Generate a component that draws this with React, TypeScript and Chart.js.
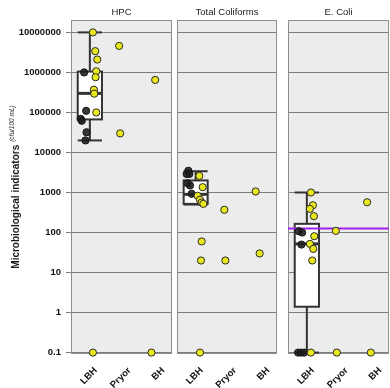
import React, { useEffect, useRef } from 'react';
import { Chart, registerables } from 'chart.js';
Chart.register(...registerables);

const FONT = "'Liberation Sans', Arial, sans-serif";

// ---------- data ----------
const categories = ['LBH', 'Pryor', 'BH'];
const panelTitles = ['HPC', 'Total Coliforms', 'E. Coli'];
const yTicks = [0.1, 1, 10, 100, 1000, 10000, 100000, 1000000, 10000000];
const yTitle = 'Microbiological indicators';
const yUnit = '(cfu/100 mL)';
const eColiStandard = 126;

// LBH box statistics: [whisker low, Q1, median, Q3, whisker high]
const hpcBox = [20000, 67000, 300000, 1050000, 10000000];
const tcBox = [500, 520, 900, 2000, 3400];
const ecBox = [0.1, 1.4, 52, 165, 1000];

// HPC points (category 1..3, value, jitter)
const hpcYellowCat = [1, 1, 1, 1, 1, 1, 1, 1, 1, 2, 2, 3, 3];
const hpcYellowVal = [1e7, 3.4e6, 2.1e6, 1.07e6, 7.6e5, 3.7e5, 2.95e5, 1e5, 0.1, 4.6e6, 3e4, 6.5e5, 0.1];
const hpcYellowJit = [0.15, 0.22, 0.28, 0.25, 0.23, 0.18, 0.19, 0.25, 0.15, -0.07, -0.04, 0, -0.11];
const hpcBlackCat = [1, 1, 1, 1, 1, 1];
const hpcBlackVal = [1e6, 1.1e5, 6.9e4, 6.2e4, 3.2e4, 2e4];
const hpcBlackJit = [-0.11, -0.05, -0.21, -0.18, -0.04, -0.07];

// Total coliforms points
const tcYellowCat = [1, 1, 1, 1, 1, 1, 1, 1, 1, 2, 2, 3, 3];
const tcYellowVal = [2600, 1360, 830, 660, 560, 520, 60, 20, 0.1, 370, 20, 1060, 30];
const tcYellowJit = [0.17, 0.27, 0.12, 0.19, 0.24, 0.29, 0.24, 0.22, 0.19, -0.08, -0.05, -0.14, -0.02];
const tcBlackCat = [1, 1, 1, 1, 1, 1];
const tcBlackVal = [3500, 2900, 2900, 1700, 1500, 930];
const tcBlackJit = [-0.16, -0.21, -0.13, -0.18, -0.11, -0.06];

// E. coli points
const ecYellowCat = [1, 1, 1, 1, 1, 1, 1, 1, 1, 2, 2, 3, 3];
const ecYellowVal = [1000, 480, 390, 256, 81, 52, 39, 20, 0.1, 110, 0.1, 570, 0.1];
const ecYellowJit = [0.18, 0.24, 0.15, 0.27, 0.28, 0.15, 0.25, 0.22, 0.18, -0.08, -0.05, -0.15, -0.04];
const ecBlackCat = [1, 1, 1, 1, 1, 1];
const ecBlackVal = [108, 100, 50, 0.1, 0.1, 0.1];
const ecBlackJit = [-0.18, -0.08, -0.1, -0.2, -0.11, -0.02];

// ---------- styling ----------
const YELLOW = 'rgb(232,232,28)';
const DARK = 'rgba(28,28,28,0.88)';
const PANEL_BG = '#ececec';
const GRID = '#7c7c7c';
const BOX_SHIFT = 0.06;
const BOX_HALF = 0.36;

type PanelDef = {
  title: string;
  box: number[];
  yCat: number[]; yVal: number[]; yJit: number[];
  bCat: number[]; bVal: number[]; bJit: number[];
  threshold: number | null;
};

const panels: PanelDef[] = [
  { title: panelTitles[0], box: hpcBox, yCat: hpcYellowCat, yVal: hpcYellowVal, yJit: hpcYellowJit, bCat: hpcBlackCat, bVal: hpcBlackVal, bJit: hpcBlackJit, threshold: null },
  { title: panelTitles[1], box: tcBox, yCat: tcYellowCat, yVal: tcYellowVal, yJit: tcYellowJit, bCat: tcBlackCat, bVal: tcBlackVal, bJit: tcBlackJit, threshold: null },
  { title: panelTitles[2], box: ecBox, yCat: ecYellowCat, yVal: ecYellowVal, yJit: ecYellowJit, bCat: ecBlackCat, bVal: ecBlackVal, bJit: ecBlackJit, threshold: eColiStandard },
];

const layouts = [
  { left: 0, width: 174, padL: 0, padR: 2, axisW: 71, yLabels: true },
  { left: 175, width: 104, padL: 2, padR: 2, axisW: 0, yLabels: false },
  { left: 286, width: 104, padL: 2, padR: 1, axisW: 0, yLabels: false },
];

function buildChart(canvas: HTMLCanvasElement, p: PanelDef, L: typeof layouts[0]) {
  const yMin = Math.pow(10, -1.035);
  const yMax = Math.pow(10, 7.31);
  const datasets: any[] = [
    {
      type: 'scatter',
      data: p.yCat.map((c, i) => ({ x: c + p.yJit[i], y: p.yVal[i] })),
      backgroundColor: YELLOW, borderColor: '#2a2a2a', borderWidth: 1,
      pointRadius: 3.6, pointHoverRadius: 3.6, clip: false,
    },
    {
      type: 'scatter',
      data: p.bCat.map((c, i) => ({ x: c + p.bJit[i], y: p.bVal[i] })),
      backgroundColor: DARK, borderColor: '#151515', borderWidth: 1,
      pointRadius: 3.6, pointHoverRadius: 3.6, clip: false,
    },
  ];
  if (p.threshold != null) {
    datasets.push({
      type: 'line',
      data: [{ x: 0.5, y: p.threshold }, { x: 3.5, y: p.threshold }],
      borderColor: '#a020f0', borderWidth: 2, pointRadius: 0, fill: false,
    });
  }

  const panelPlugin = {
    id: 'panelDecor' + p.title.replace(/\W/g, ''),
    beforeDraw(chart: any) {
      const { ctx, chartArea: a } = chart;
      ctx.save();
      ctx.fillStyle = PANEL_BG;
      ctx.fillRect(a.left, a.top, a.right - a.left, a.bottom - a.top);
      ctx.restore();
    },
    beforeDatasetsDraw(chart: any) {
      const { ctx, chartArea: a, scales } = chart;
      const x = scales.x, y = scales.y;
      ctx.save();
      ctx.strokeStyle = '#8e8e8e';
      ctx.lineWidth = 1;
      ctx.strokeRect(a.left + 0.5, a.top + 0.5, a.right - a.left - 1, a.bottom - a.top - 1);
      const [lo, q1, med, q3, hi] = p.box;
      const cx = x.getPixelForValue(1 + BOX_SHIFT);
      const hw = x.getPixelForValue(1 + BOX_HALF) - x.getPixelForValue(1);
      const py = (v: number) => y.getPixelForValue(v);
      ctx.strokeStyle = '#333';
      ctx.lineWidth = 2;
      const line = (x1: number, y1: number, x2: number, y2: number) => {
        ctx.beginPath(); ctx.moveTo(x1, y1); ctx.lineTo(x2, y2); ctx.stroke();
      };
      line(cx, py(hi), cx, py(q3));
      line(cx, py(q1), cx, py(lo));
      line(cx - hw, py(hi), cx + hw, py(hi));
      line(cx - hw, py(lo), cx + hw, py(lo));
      ctx.fillStyle = '#ffffff';
      ctx.fillRect(cx - hw, py(q3), 2 * hw, py(q1) - py(q3));
      ctx.strokeRect(cx - hw, py(q3), 2 * hw, py(q1) - py(q3));
      ctx.lineWidth = 3;
      line(cx - hw, py(med), cx + hw, py(med));
      ctx.restore();
    },
    afterDraw(chart: any) {
      const { ctx, chartArea: a } = chart;
      ctx.save();
      ctx.fillStyle = '#1a1a1a';
      ctx.font = `9.5px ${FONT}`;
      ctx.textAlign = 'center';
      ctx.textBaseline = 'middle';
      ctx.fillText(p.title, (a.left + a.right) / 2, 12);
      if (L.yLabels) {
        const cy = (a.top + a.bottom) / 2;
        ctx.font = `bold 10px ${FONT}`;
        const wb = ctx.measureText(yTitle).width;
        ctx.font = `italic 6.5px ${FONT}`;
        const wi = ctx.measureText(yUnit).width;
        const gap = 3;
        const total = wb + gap + wi;
        ctx.translate(0, cy + total / 2);
        ctx.rotate(-Math.PI / 2);
        ctx.textAlign = 'left';
        ctx.textBaseline = 'alphabetic';
        ctx.font = `bold 10px ${FONT}`;
        ctx.fillText(yTitle, 0, 18.6);
        ctx.font = `italic 6.5px ${FONT}`;
        ctx.fillText(yUnit, wb + gap, 13.5);
      }
      ctx.restore();
    },
  };

  return new Chart(canvas, {
    type: 'scatter',
    data: { datasets },
    options: {
      responsive: false,
      animation: false,
      devicePixelRatio: 1,
      events: [],
      layout: { autoPadding: false, padding: { left: L.padL, right: L.padR, top: 20, bottom: 0 } },
      plugins: { legend: { display: false }, tooltip: { enabled: false }, title: { display: false } },
      scales: {
        x: {
          type: 'linear', min: 0.5, max: 3.5,
          grid: { display: false }, border: { display: false },
          ticks: {
            autoSkip: false, minRotation: 45, maxRotation: 45, padding: 3, labelOffset: 8,
            font: { family: FONT, size: 9.5, weight: 'bold' }, color: '#111',
            callback: (v: any) => categories[Math.round(Number(v)) - 1] ?? '',
          },
          afterBuildTicks: (s: any) => { s.ticks = categories.map((_, i) => ({ value: i + 1 })); },
          afterFit: (s: any) => { s.height = 34; s.paddingLeft = 0; s.paddingRight = 0; },
        },
        y: {
          type: 'logarithmic', min: yMin, max: yMax,
          grid: { color: GRID, lineWidth: 1, drawTicks: L.yLabels, tickLength: 5 },
          border: { display: false },
          ticks: {
            display: L.yLabels, padding: 5,
            font: { family: FONT, size: 9.5, weight: 'bold' }, color: '#111',
            callback: (v: any) => String(v),
          },
          afterBuildTicks: (s: any) => { s.ticks = yTicks.map((v) => ({ value: v })); },
          afterFit: (s: any) => { s.width = L.axisW; s.paddingTop = 0; s.paddingBottom = 0; },
        },
      },
    } as any,
    plugins: [panelPlugin],
  });
}

export default function App() {
  const r0 = useRef<HTMLCanvasElement>(null);
  const r1 = useRef<HTMLCanvasElement>(null);
  const r2 = useRef<HTMLCanvasElement>(null);
  const refs = [r0, r1, r2];
  useEffect(() => {
    const charts = refs.map((r, i) => buildChart(r.current!, panels[i], layouts[i]));
    return () => charts.forEach((c) => c.destroy());
  }, []);
  return (
    <div style={{ position: 'fixed', left: 0, top: 0, width: 390, height: 388, background: '#fff', overflow: 'hidden' }}>
      {layouts.map((L, i) => (
        <canvas
          key={i}
          ref={refs[i]}
          width={L.width}
          height={388}
          style={{ position: 'absolute', left: L.left, top: 0, width: L.width, height: 388 }}
        />
      ))}
    </div>
  );
}
